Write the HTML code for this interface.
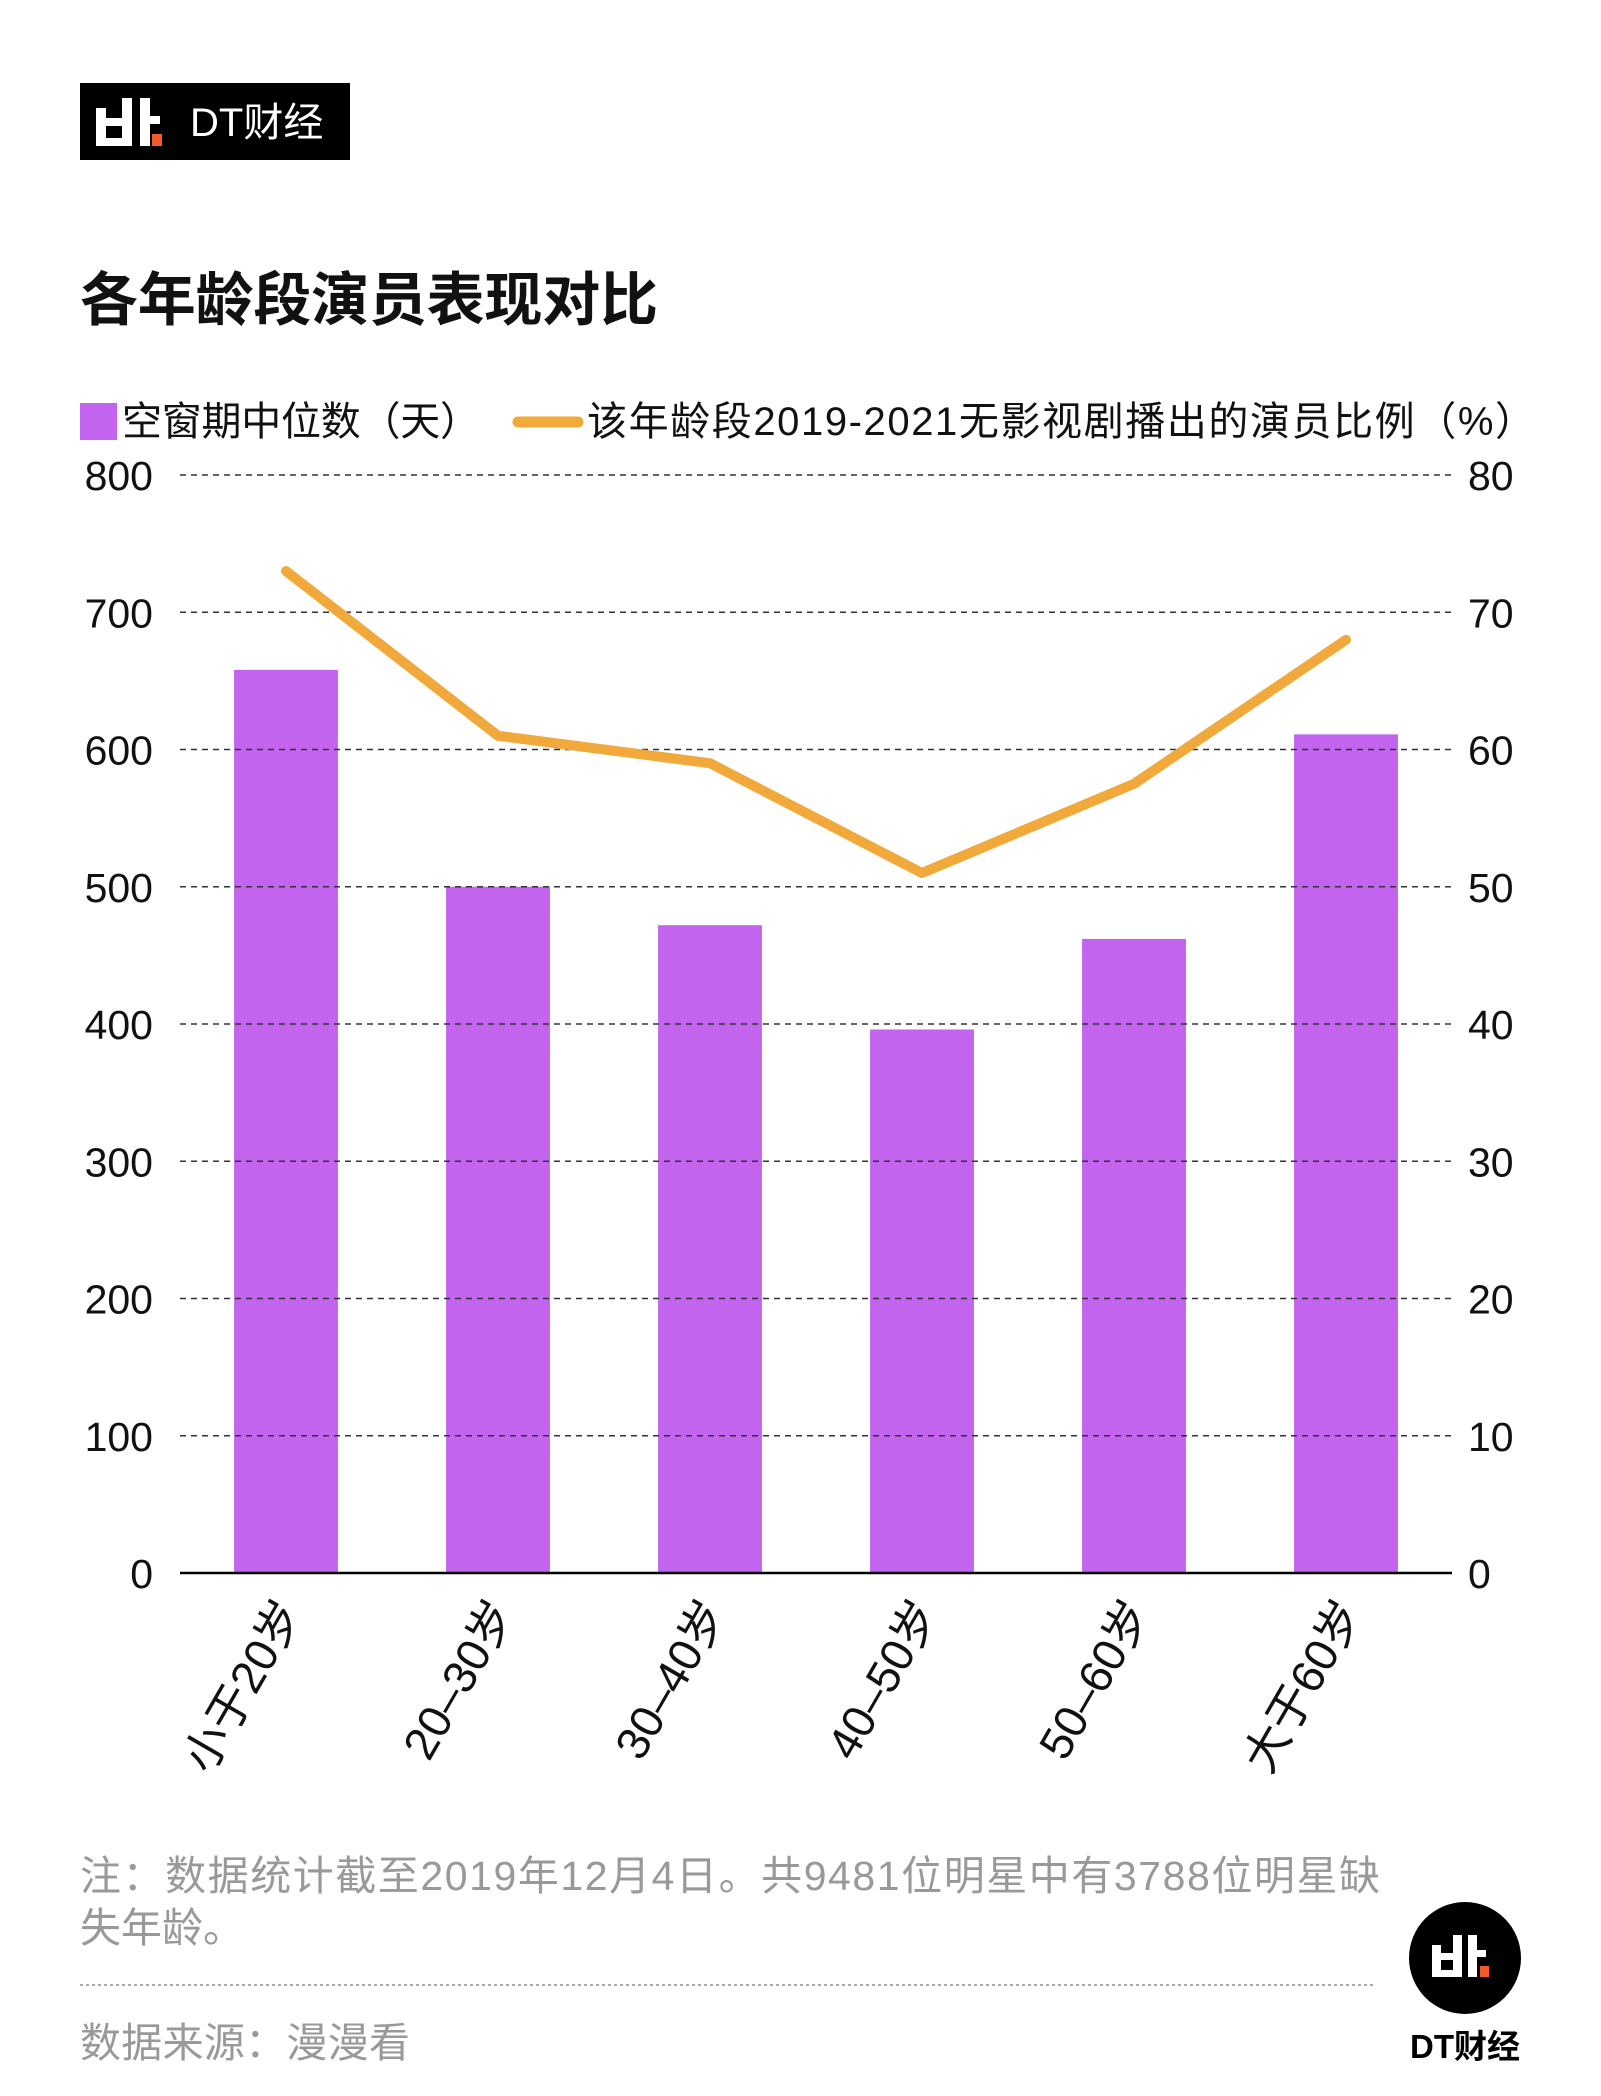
<!DOCTYPE html>
<html><head><meta charset="utf-8">
<style>
html,body{margin:0;padding:0;background:#fff;}
svg{display:block;font-family:"Liberation Sans","Noto Sans CJK SC",sans-serif;}
</style></head>
<body>
<svg id="chart" width="1601" height="2096" viewBox="0 0 1601 2096" xmlns="http://www.w3.org/2000/svg">
  <g>
    <rect x="80" y="83" width="270" height="77" fill="#000"/>
    <rect x="96" y="108" width="10" height="38" fill="#fff"/>
    <rect x="106" y="118" width="16" height="8" fill="#fff"/>
    <rect x="106" y="138" width="16" height="8" fill="#fff"/>
    <rect x="122" y="98" width="10" height="48" fill="#fff"/>
    <rect x="140" y="98" width="10" height="48" fill="#fff"/>
    <rect x="150" y="116" width="10" height="8" fill="#fff"/>
    <rect x="152" y="134" width="10" height="12" fill="#f05a28"/>
    <text x="190" y="136" font-size="40" fill="#fff">DT财经</text>
  </g>
  <text x="80" y="320" font-size="58" font-weight="bold" fill="#111" textLength="578">各年龄段演员表现对比</text>
  <g>
    <rect x="80" y="403" width="37" height="37" fill="#c264ee"/>
    <text x="122" y="435" font-size="40" fill="#111" textLength="358">空窗期中位数（天）</text>
    <line x1="518" y1="422" x2="578" y2="422" stroke="#f0a93a" stroke-width="11" stroke-linecap="round"/>
    <text x="587" y="435" font-size="40" fill="#111" textLength="948">该年龄段2019-2021无影视剧播出的演员比例（%）</text>
  </g>
  <g id="plot"></g>
  <text x="80" y="1890" font-size="41" fill="#999" textLength="1300">注：数据统计截至2019年12月4日。共9481位明星中有3788位明星缺</text>
  <text x="80" y="1942" font-size="41" fill="#999">失年龄。</text>
  <line x1="80" y1="1985" x2="1375" y2="1985" stroke="#aaa" stroke-width="2" stroke-dasharray="3,3"/>
  <text x="80" y="2057" font-size="41" fill="#999" textLength="330">数据来源：漫漫看</text>
  <g>
    <circle cx="1465" cy="1958" r="56" fill="#000"/>
    <rect x="1432" y="1945" width="9" height="32" fill="#fff"/>
    <rect x="1441" y="1953" width="12" height="7" fill="#fff"/>
    <rect x="1441" y="1970" width="12" height="7" fill="#fff"/>
    <rect x="1453" y="1935" width="9" height="42" fill="#fff"/>
    <rect x="1468" y="1935" width="9" height="42" fill="#fff"/>
    <rect x="1477" y="1950" width="9" height="7" fill="#fff"/>
    <rect x="1480" y="1966" width="9" height="11" fill="#f05a28"/>
    <text x="1465" y="2058" font-size="33" font-weight="bold" fill="#000" text-anchor="middle">DT财经</text>
  </g>
</svg>
<script>
const categories = ["小于20岁","20–30岁","30–40岁","40–50岁","50–60岁","大于60岁"];
const barValues = [658, 500, 472, 396, 462, 611];
const lineValues = [73, 61, 59, 51, 57.5, 68];
const leftTicks = [0,100,200,300,400,500,600,700,800];
const rightTicks = [0,10,20,30,40,50,60,70,80];

const NS = "http://www.w3.org/2000/svg";
const plot = document.getElementById('plot');
const X0 = 180, X1 = 1452, Y0 = 1573, YT = 475;
const band = (X1 - X0) / categories.length;
const xC = i => X0 + band * (i + 0.5);
const yL = v => Y0 - (v / 800) * (Y0 - YT);
const yR = v => Y0 - (v / 80) * (Y0 - YT);
function mk(tag, attrs){ const e = document.createElementNS(NS, tag); for (const k in attrs) e.setAttribute(k, attrs[k]); plot.appendChild(e); return e; }

const bw = band * 0.49;
barValues.forEach((v, i) => {
  const b = mk('rect', {x: xC(i) - bw / 2, y: yL(v), width: bw, height: Y0 - yL(v), fill: '#c264ee'});
  
  
});
leftTicks.forEach(t => {
  const y = yL(t);
  if (t !== 0) {
    const g = mk('line', {x1: X0, x2: X1, y1: y, y2: y, stroke: '#333', 'stroke-width': 1.5, 'stroke-dasharray': '6,5'});
    
    
  }
  const l = mk('text', {x: 153, y: y + 15, 'font-size': 41, fill: '#111', 'text-anchor': 'end'});
  l.textContent = t;
  
  
});
rightTicks.forEach(t => {
  const r = mk('text', {x: 1468, y: yR(t) + 15, 'font-size': 41, fill: '#111'});
  r.textContent = t;
  
  
});
const axis = mk('line', {x1: X0, x2: X1, y1: Y0, y2: Y0, stroke: '#000', 'stroke-width': 2.5});


const pts = lineValues.map((v, i) => xC(i) + ',' + yR(v)).join(' ');
const ln = mk('polyline', {points: pts, fill: 'none', stroke: '#f0a93a', 'stroke-width': 10, 'stroke-linecap': 'round', 'stroke-linejoin': 'round'});


categories.forEach((c, i) => {
  const x = xC(i) + 18, y = 1612;
  const t = mk('text', {x: x, y: y, 'font-size': 46, fill: '#111', 'text-anchor': 'end', transform: 'rotate(-60 ' + x + ' ' + y + ')'});
  t.textContent = c;
  
  
});
</script>
</body></html>
